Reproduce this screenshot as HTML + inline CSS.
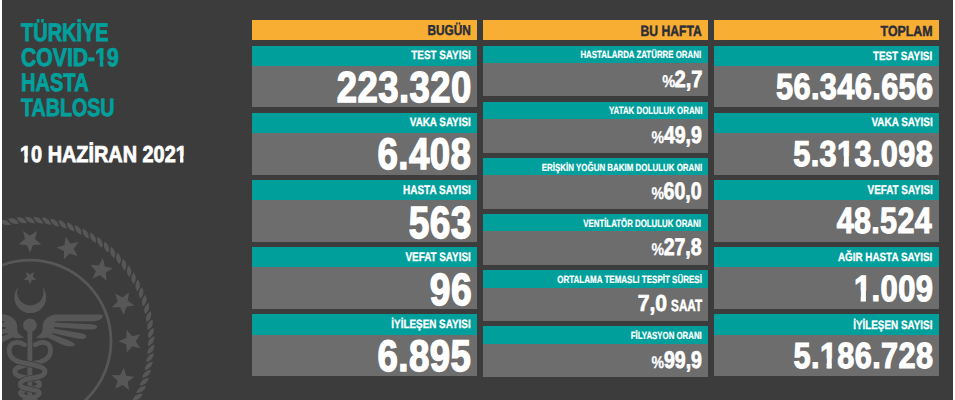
<!DOCTYPE html>
<html><head><meta charset="utf-8"><title>Türkiye COVID-19 Hasta Tablosu</title>
<style>
html,body{margin:0;padding:0;background:#fff;width:955px;height:400px;overflow:hidden}
#bg{position:absolute;left:2px;top:0;width:951px;height:400px;background:#3c3c3c;overflow:hidden}
.seal{position:absolute;left:0;top:0}
.r{position:absolute}
.t{position:absolute;white-space:nowrap;font-family:"Liberation Sans",sans-serif;font-weight:bold;text-rendering:geometricPrecision}
#page{position:absolute;left:0;top:0;width:955px;height:400px}
</style></head><body>
<div id="bg"><svg class="seal" width="951" height="400" viewBox="2 0 951 400" fill="#575757"><path d="M -6 0 Q 0 -4.6 6 0 Q 0 4.6 -6 0 Z" transform="translate(151.20 341.20) rotate(122.0)"/><path d="M -6 0 Q 0 -4.6 6 0 Q 0 4.6 -6 0 Z" transform="translate(150.92 349.47) rotate(125.9)"/><path d="M -6 0 Q 0 -4.6 6 0 Q 0 4.6 -6 0 Z" transform="translate(150.07 357.70) rotate(129.8)"/><path d="M -6 0 Q 0 -4.6 6 0 Q 0 4.6 -6 0 Z" transform="translate(148.66 365.86) rotate(133.7)"/><path d="M -6 0 Q 0 -4.6 6 0 Q 0 4.6 -6 0 Z" transform="translate(146.71 373.90) rotate(137.7)"/><path d="M -6 0 Q 0 -4.6 6 0 Q 0 4.6 -6 0 Z" transform="translate(144.20 381.79) rotate(141.6)"/><path d="M -6 0 Q 0 -4.6 6 0 Q 0 4.6 -6 0 Z" transform="translate(141.17 389.49) rotate(145.5)"/><path d="M -6 0 Q 0 -4.6 6 0 Q 0 4.6 -6 0 Z" transform="translate(137.61 396.96) rotate(149.4)"/><path d="M -6 0 Q 0 -4.6 6 0 Q 0 4.6 -6 0 Z" transform="translate(133.56 404.17) rotate(153.3)"/><path d="M -6 0 Q 0 -4.6 6 0 Q 0 4.6 -6 0 Z" transform="translate(-2.70 224.49) rotate(376.3)"/><path d="M -6 0 Q 0 -4.6 6 0 Q 0 4.6 -6 0 Z" transform="translate(5.34 222.54) rotate(380.3)"/><path d="M -6 0 Q 0 -4.6 6 0 Q 0 4.6 -6 0 Z" transform="translate(13.50 221.13) rotate(384.2)"/><path d="M -6 0 Q 0 -4.6 6 0 Q 0 4.6 -6 0 Z" transform="translate(21.73 220.28) rotate(388.1)"/><path d="M -6 0 Q 0 -4.6 6 0 Q 0 4.6 -6 0 Z" transform="translate(30.00 220.00) rotate(392.0)"/><path d="M -6 0 Q 0 -4.6 6 0 Q 0 4.6 -6 0 Z" transform="translate(38.27 220.28) rotate(395.9)"/><path d="M -6 0 Q 0 -4.6 6 0 Q 0 4.6 -6 0 Z" transform="translate(46.50 221.13) rotate(399.8)"/><path d="M -6 0 Q 0 -4.6 6 0 Q 0 4.6 -6 0 Z" transform="translate(54.66 222.54) rotate(403.7)"/><path d="M -6 0 Q 0 -4.6 6 0 Q 0 4.6 -6 0 Z" transform="translate(62.70 224.49) rotate(407.7)"/><path d="M -6 0 Q 0 -4.6 6 0 Q 0 4.6 -6 0 Z" transform="translate(70.59 227.00) rotate(411.6)"/><path d="M -6 0 Q 0 -4.6 6 0 Q 0 4.6 -6 0 Z" transform="translate(78.29 230.03) rotate(415.5)"/><path d="M -6 0 Q 0 -4.6 6 0 Q 0 4.6 -6 0 Z" transform="translate(85.76 233.59) rotate(419.4)"/><path d="M -6 0 Q 0 -4.6 6 0 Q 0 4.6 -6 0 Z" transform="translate(92.97 237.64) rotate(423.3)"/><path d="M -6 0 Q 0 -4.6 6 0 Q 0 4.6 -6 0 Z" transform="translate(99.89 242.18) rotate(427.2)"/><path d="M -6 0 Q 0 -4.6 6 0 Q 0 4.6 -6 0 Z" transform="translate(106.49 247.18) rotate(431.1)"/><path d="M -6 0 Q 0 -4.6 6 0 Q 0 4.6 -6 0 Z" transform="translate(112.73 252.62) rotate(435.0)"/><path d="M -6 0 Q 0 -4.6 6 0 Q 0 4.6 -6 0 Z" transform="translate(118.58 258.47) rotate(439.0)"/><path d="M -6 0 Q 0 -4.6 6 0 Q 0 4.6 -6 0 Z" transform="translate(124.02 264.71) rotate(442.9)"/><path d="M -6 0 Q 0 -4.6 6 0 Q 0 4.6 -6 0 Z" transform="translate(129.02 271.31) rotate(446.8)"/><path d="M -6 0 Q 0 -4.6 6 0 Q 0 4.6 -6 0 Z" transform="translate(133.56 278.23) rotate(450.7)"/><path d="M -6 0 Q 0 -4.6 6 0 Q 0 4.6 -6 0 Z" transform="translate(137.61 285.44) rotate(454.6)"/><path d="M -6 0 Q 0 -4.6 6 0 Q 0 4.6 -6 0 Z" transform="translate(141.17 292.91) rotate(458.5)"/><path d="M -6 0 Q 0 -4.6 6 0 Q 0 4.6 -6 0 Z" transform="translate(144.20 300.61) rotate(462.4)"/><path d="M -6 0 Q 0 -4.6 6 0 Q 0 4.6 -6 0 Z" transform="translate(146.71 308.50) rotate(466.3)"/><path d="M -6 0 Q 0 -4.6 6 0 Q 0 4.6 -6 0 Z" transform="translate(148.66 316.54) rotate(470.3)"/><path d="M -6 0 Q 0 -4.6 6 0 Q 0 4.6 -6 0 Z" transform="translate(150.07 324.70) rotate(474.2)"/><path d="M -6 0 Q 0 -4.6 6 0 Q 0 4.6 -6 0 Z" transform="translate(150.92 332.93) rotate(478.1)"/><circle cx="30.0" cy="341.2" r="81" fill="none" stroke="#575757" stroke-width="2.8"/><polygon points="30.00,252.70 26.90,244.97 18.59,244.41 24.98,239.07 22.95,230.99 30.00,235.42 37.05,230.99 35.02,239.07 41.41,244.41 33.10,244.97"/><polygon points="63.87,259.44 63.96,251.11 56.50,247.41 64.44,244.92 65.66,236.68 70.48,243.47 78.69,242.08 73.72,248.76 77.58,256.14 69.69,253.48"/><polygon points="92.58,278.62 95.85,270.96 90.37,264.69 98.67,265.43 102.94,258.28 104.80,266.40 112.92,268.26 105.77,272.53 106.51,280.83 100.24,275.35"/><polygon points="111.76,307.33 117.72,301.51 115.06,293.62 122.44,297.48 129.12,292.51 127.73,300.72 134.52,305.54 126.28,306.76 123.79,314.70 120.09,307.24"/><polygon points="118.50,341.20 126.23,338.10 126.79,329.79 132.13,336.18 140.21,334.15 135.78,341.20 140.21,348.25 132.13,346.22 126.79,352.61 126.23,344.30"/><polygon points="111.76,375.07 120.09,375.16 123.79,367.70 126.28,375.64 134.52,376.86 127.73,381.68 129.12,389.89 122.44,384.92 115.06,388.78 117.72,380.89"/><polygon points="30.00,284.40 28.24,280.02 23.53,279.70 27.15,276.68 26.00,272.10 30.00,274.61 34.00,272.10 32.85,276.68 36.47,279.70 31.76,280.02"/><path d="M 18.33 286.73 A 15.9 15.9 0 1 0 42.27 286.73 A 13.2 13.2 0 1 1 18.33 286.73 Z"/><circle cx="29.9" cy="325.2" r="6.8"/><rect x="27.5" y="325" width="4.8" height="80"/><g><path d="M 55 314.4 L 100 314.4 C 104 314.4 103.5 317 101 319 C 99 320.8 96 321.3 91 321.3 L 55 321.3 Z"/><path d="M 54 322.6 L 92 324.2 C 98 324.6 98.5 327.6 95 329 C 92 330 86 329.6 80 329 L 52 326.8 Z"/><path d="M 52 328.2 L 80 333 C 86 334 88 336.4 85 338.2 C 82 339.8 77 339 72 337.6 L 50 332.4 Z"/><path d="M 50 333.6 L 68 340 C 74 342.4 76 344.4 74 345.8 C 71 347 66 346 62 344.4 L 47 337.2 Z"/><path d="M 57 314.4 C 48 314.6 42 320.5 42.6 327.5 C 43 332.5 40.5 335.2 35.6 337.2 C 42 339.4 49 338.2 52.5 333.5 L 55.5 321.3 Z"/></g><g transform="translate(59.8 0) scale(-1 1)"><path d="M 55 314.4 L 100 314.4 C 104 314.4 103.5 317 101 319 C 99 320.8 96 321.3 91 321.3 L 55 321.3 Z"/><path d="M 54 322.6 L 92 324.2 C 98 324.6 98.5 327.6 95 329 C 92 330 86 329.6 80 329 L 52 326.8 Z"/><path d="M 52 328.2 L 80 333 C 86 334 88 336.4 85 338.2 C 82 339.8 77 339 72 337.6 L 50 332.4 Z"/><path d="M 50 333.6 L 68 340 C 74 342.4 76 344.4 74 345.8 C 71 347 66 346 62 344.4 L 47 337.2 Z"/><path d="M 57 314.4 C 48 314.6 42 320.5 42.6 327.5 C 43 332.5 40.5 335.2 35.6 337.2 C 42 339.4 49 338.2 52.5 333.5 L 55.5 321.3 Z"/></g><path d="M 24.5 344.8 C 18 340.5 9.8 342 9.3 349.5 C 8.8 356 13 360 20 362 C 30 364.5 44.5 366 45 371 C 45.5 376 37 377.5 29.8 378.5 C 23 379.5 19.5 382 20.5 385.5 C 21.5 389 34 389 38.5 391.5 C 41.5 394 36 397 29.8 398.5 C 24.5 399.5 22 402 23 406" fill="none" stroke="#575757" stroke-width="4.8" stroke-linecap="round" transform="translate(59.8 0) scale(-1 1)"/><path d="M 24.5 344.8 C 18 340.5 9.8 342 9.3 349.5 C 8.8 356 13 360 20 362 C 30 364.5 44.5 366 45 371 C 45.5 376 37 377.5 29.8 378.5 C 23 379.5 19.5 382 20.5 385.5 C 21.5 389 34 389 38.5 391.5 C 41.5 394 36 397 29.8 398.5 C 24.5 399.5 22 402 23 406" fill="none" stroke="#3c3c3c" stroke-width="6.2" stroke-linecap="butt" stroke-dasharray="0 22 100 400"/><path d="M 24.5 344.8 C 18 340.5 9.8 342 9.3 349.5 C 8.8 356 13 360 20 362 C 30 364.5 44.5 366 45 371 C 45.5 376 37 377.5 29.8 378.5 C 23 379.5 19.5 382 20.5 385.5 C 21.5 389 34 389 38.5 391.5 C 41.5 394 36 397 29.8 398.5 C 24.5 399.5 22 402 23 406" fill="none" stroke="#575757" stroke-width="4.8" stroke-linecap="round"/></svg></div>
<div id="page">
<div class="r" style="left:252px;top:20px;width:225px;height:20px;background:#f7ae33"></div>
<div class="r" style="left:483px;top:20px;width:225px;height:20px;background:#f7ae33"></div>
<div class="r" style="left:714px;top:20px;width:225px;height:20px;background:#f7ae33"></div>
<div class="r" style="left:252px;top:46px;width:225px;height:20px;background:#009f9c"></div>
<div class="r" style="left:252px;top:66px;width:225px;height:41px;background:#6d6d6d"></div>
<div class="r" style="left:252px;top:113px;width:225px;height:20px;background:#009f9c"></div>
<div class="r" style="left:252px;top:133px;width:225px;height:42px;background:#6d6d6d"></div>
<div class="r" style="left:252px;top:180px;width:225px;height:20px;background:#009f9c"></div>
<div class="r" style="left:252px;top:200px;width:225px;height:42px;background:#6d6d6d"></div>
<div class="r" style="left:252px;top:247px;width:225px;height:20px;background:#009f9c"></div>
<div class="r" style="left:252px;top:267px;width:225px;height:42px;background:#6d6d6d"></div>
<div class="r" style="left:252px;top:314px;width:225px;height:21px;background:#009f9c"></div>
<div class="r" style="left:252px;top:335px;width:225px;height:41px;background:#6d6d6d"></div>
<div class="r" style="left:714px;top:46px;width:225px;height:20px;background:#009f9c"></div>
<div class="r" style="left:714px;top:66px;width:225px;height:41px;background:#6d6d6d"></div>
<div class="r" style="left:714px;top:113px;width:225px;height:20px;background:#009f9c"></div>
<div class="r" style="left:714px;top:133px;width:225px;height:42px;background:#6d6d6d"></div>
<div class="r" style="left:714px;top:180px;width:225px;height:20px;background:#009f9c"></div>
<div class="r" style="left:714px;top:200px;width:225px;height:42px;background:#6d6d6d"></div>
<div class="r" style="left:714px;top:247px;width:225px;height:20px;background:#009f9c"></div>
<div class="r" style="left:714px;top:267px;width:225px;height:42px;background:#6d6d6d"></div>
<div class="r" style="left:714px;top:314px;width:225px;height:21px;background:#009f9c"></div>
<div class="r" style="left:714px;top:335px;width:225px;height:41px;background:#6d6d6d"></div>
<div class="r" style="left:483px;top:46px;width:225px;height:17px;background:#009f9c"></div>
<div class="r" style="left:483px;top:63px;width:225px;height:33px;background:#6d6d6d"></div>
<div class="r" style="left:483px;top:102px;width:225px;height:17px;background:#009f9c"></div>
<div class="r" style="left:483px;top:119px;width:225px;height:34px;background:#6d6d6d"></div>
<div class="r" style="left:483px;top:158px;width:225px;height:17px;background:#009f9c"></div>
<div class="r" style="left:483px;top:175px;width:225px;height:34px;background:#6d6d6d"></div>
<div class="r" style="left:483px;top:214px;width:225px;height:17px;background:#009f9c"></div>
<div class="r" style="left:483px;top:231px;width:225px;height:34px;background:#6d6d6d"></div>
<div class="r" style="left:483px;top:270px;width:225px;height:18px;background:#009f9c"></div>
<div class="r" style="left:483px;top:288px;width:225px;height:33px;background:#6d6d6d"></div>
<div class="r" style="left:483px;top:326px;width:225px;height:18px;background:#009f9c"></div>
<div class="r" style="left:483px;top:344px;width:225px;height:33px;background:#6d6d6d"></div>
<div class="t" style="left:21.316px;transform-origin:0 50%;top:20.893px;font-size:25.290px;line-height:25.290px;transform:scaleX(0.7901);color:#00a09d;-webkit-text-stroke:0.885px #00a09d;">TÜRKİYE</div>
<div class="t" style="left:21.329px;transform-origin:0 50%;top:45.966px;font-size:25.644px;line-height:25.644px;transform:scaleX(0.8269);color:#00a09d;-webkit-text-stroke:0.898px #00a09d;">COVID-<span style="display:inline-block;clip-path:polygon(-0.5em -0.5em,1.5em -0.5em,1.5em 0.550em,0.386em 0.550em,0.386em 1.5em,0.218em 1.5em,0.218em 0.550em,-0.5em 0.550em)">1</span>9</div>
<div class="t" style="left:21.078px;transform-origin:0 50%;top:71.065px;font-size:25.288px;line-height:25.288px;transform:scaleX(0.7941);color:#00a09d;-webkit-text-stroke:0.885px #00a09d;">HASTA</div>
<div class="t" style="left:21.261px;transform-origin:0 50%;top:95.867px;font-size:24.914px;line-height:24.914px;transform:scaleX(0.7885);color:#00a09d;-webkit-text-stroke:0.872px #00a09d;">TABLOSU</div>
<div class="t" style="left:20.382px;transform-origin:0 50%;top:143.343px;font-size:23.022px;line-height:23.022px;transform:scaleX(0.8634);color:#ffffff;-webkit-text-stroke:0.806px #ffffff;"><span style="display:inline-block;clip-path:polygon(-0.5em -0.5em,1.5em -0.5em,1.5em 0.550em,0.386em 0.550em,0.386em 1.5em,0.218em 1.5em,0.218em 0.550em,-0.5em 0.550em)">1</span>0 HAZİRAN 202<span style="display:inline-block;clip-path:polygon(-0.5em -0.5em,1.5em -0.5em,1.5em 0.550em,0.386em 0.550em,0.386em 1.5em,0.218em 1.5em,0.218em 0.550em,-0.5em 0.550em)">1</span></div>
<div class="t" style="right:484.287px;transform-origin:100% 50%;top:24.133px;font-size:14.421px;line-height:14.421px;transform:scaleX(0.8205);color:#2b2d38;-webkit-text-stroke:0.433px #2b2d38;">BUGÜN</div>
<div class="t" style="right:252.923px;transform-origin:100% 50%;top:24.539px;font-size:14.866px;line-height:14.866px;transform:scaleX(0.8184);color:#2b2d38;-webkit-text-stroke:0.446px #2b2d38;">BU HAFTA</div>
<div class="t" style="right:22.632px;transform-origin:100% 50%;top:24.568px;font-size:14.675px;line-height:14.675px;transform:scaleX(0.8439);color:#2b2d38;-webkit-text-stroke:0.440px #2b2d38;">TOPLAM</div>
<div class="t" style="right:484.389px;transform-origin:100% 50%;top:49.307px;font-size:12.098px;line-height:12.098px;transform:scaleX(0.8171);color:#ffffff;-webkit-text-stroke:0.302px #ffffff;">TEST SAYISI</div>
<div class="t" style="right:483.280px;transform-origin:100% 50%;top:66.830px;font-size:43.495px;line-height:43.495px;transform:scaleX(0.8402);color:#ffffff;-webkit-text-stroke:1.392px #ffffff;letter-spacing:0.522px;">223.320</div>
<div class="t" style="right:484.347px;transform-origin:100% 50%;top:116.368px;font-size:12.099px;line-height:12.099px;transform:scaleX(0.8151);color:#ffffff;-webkit-text-stroke:0.302px #ffffff;">VAKA SAYISI</div>
<div class="t" style="right:483.733px;transform-origin:100% 50%;top:133.122px;font-size:44.284px;line-height:44.284px;transform:scaleX(0.8282);color:#ffffff;-webkit-text-stroke:1.417px #ffffff;letter-spacing:0.531px;">6.408</div>
<div class="t" style="right:484.221px;transform-origin:100% 50%;top:184.383px;font-size:12.345px;line-height:12.345px;transform:scaleX(0.8091);color:#ffffff;-webkit-text-stroke:0.309px #ffffff;">HASTA SAYISI</div>
<div class="t" style="right:483.139px;transform-origin:100% 50%;top:200.391px;font-size:45.004px;line-height:45.004px;transform:scaleX(0.8222);color:#ffffff;-webkit-text-stroke:1.440px #ffffff;letter-spacing:0.540px;">563</div>
<div class="t" style="right:484.366px;transform-origin:100% 50%;top:251.433px;font-size:12.362px;line-height:12.362px;transform:scaleX(0.7984);color:#ffffff;-webkit-text-stroke:0.309px #ffffff;">VEFAT SAYISI</div>
<div class="t" style="right:483.151px;transform-origin:100% 50%;top:266.930px;font-size:44.985px;line-height:44.985px;transform:scaleX(0.8276);color:#ffffff;-webkit-text-stroke:1.440px #ffffff;letter-spacing:0.540px;">96</div>
<div class="t" style="right:484.339px;transform-origin:100% 50%;top:318.311px;font-size:12.058px;line-height:12.058px;transform:scaleX(0.8210);color:#ffffff;-webkit-text-stroke:0.301px #ffffff;">İYİLEŞEN SAYISI</div>
<div class="t" style="right:483.886px;transform-origin:100% 50%;top:334.873px;font-size:44.267px;line-height:44.267px;transform:scaleX(0.8284);color:#ffffff;-webkit-text-stroke:1.417px #ffffff;letter-spacing:0.531px;">6.895</div>
<div class="t" style="right:253.928px;transform-origin:100% 50%;top:50.529px;font-size:10.408px;line-height:10.408px;transform:scaleX(0.7588);color:#ffffff;-webkit-text-stroke:0.229px #ffffff;">HASTALARDA ZATÜRRE ORANI</div>
<div class="t" style="right:279.911px;transform-origin:100% 50%;top:73.030px;font-size:17.133px;line-height:17.133px;transform:scaleX(0.8507);color:#ffffff;-webkit-text-stroke:0.257px #ffffff;">%</div>
<div class="t" style="right:252.831px;transform-origin:100% 50%;top:68.121px;font-size:23.437px;line-height:23.437px;transform:scaleX(0.8601);color:#ffffff;-webkit-text-stroke:0.750px #ffffff;">2,7</div>
<div class="t" style="right:253.040px;transform-origin:100% 50%;top:106.825px;font-size:10.490px;line-height:10.490px;transform:scaleX(0.7502);color:#ffffff;-webkit-text-stroke:0.231px #ffffff;">YATAK DOLULUK ORANI</div>
<div class="t" style="right:291.187px;transform-origin:100% 50%;top:129.198px;font-size:17.040px;line-height:17.040px;transform:scaleX(0.8285);color:#ffffff;-webkit-text-stroke:0.256px #ffffff;">%</div>
<div class="t" style="right:253.130px;transform-origin:100% 50%;top:124.097px;font-size:24.059px;line-height:24.059px;transform:scaleX(0.8101);color:#ffffff;-webkit-text-stroke:0.770px #ffffff;">49,9</div>
<div class="t" style="right:252.885px;transform-origin:100% 50%;top:163.958px;font-size:10.361px;line-height:10.361px;transform:scaleX(0.7674);color:#ffffff;-webkit-text-stroke:0.228px #ffffff;">ERİŞKİN YOĞUN BAKIM DOLULUK ORANI</div>
<div class="t" style="right:291.095px;transform-origin:100% 50%;top:185.336px;font-size:16.977px;line-height:16.977px;transform:scaleX(0.8309);color:#ffffff;-webkit-text-stroke:0.255px #ffffff;">%</div>
<div class="t" style="right:253.034px;transform-origin:100% 50%;top:179.987px;font-size:23.963px;line-height:23.963px;transform:scaleX(0.8172);color:#ffffff;-webkit-text-stroke:0.767px #ffffff;">60,0</div>
<div class="t" style="right:253.648px;transform-origin:100% 50%;top:218.833px;font-size:10.681px;line-height:10.681px;transform:scaleX(0.7358);color:#ffffff;-webkit-text-stroke:0.235px #ffffff;">VENTİLATÖR DOLULUK ORANI</div>
<div class="t" style="right:291.130px;transform-origin:100% 50%;top:241.331px;font-size:17.048px;line-height:17.048px;transform:scaleX(0.8281);color:#ffffff;-webkit-text-stroke:0.256px #ffffff;">%</div>
<div class="t" style="right:252.888px;transform-origin:100% 50%;top:236.117px;font-size:23.989px;line-height:23.989px;transform:scaleX(0.8151);color:#ffffff;-webkit-text-stroke:0.768px #ffffff;">27,8</div>
<div class="t" style="right:252.871px;transform-origin:100% 50%;top:275.691px;font-size:10.417px;line-height:10.417px;transform:scaleX(0.7698);color:#ffffff;-webkit-text-stroke:0.229px #ffffff;">ORTALAMA TEMASLI TESPİT SÜRESİ</div>
<div class="t" style="right:287.540px;transform-origin:100% 50%;top:291.976px;font-size:23.044px;line-height:23.044px;transform:scaleX(0.9174);color:#ffffff;-webkit-text-stroke:0.737px #ffffff;">7,0</div>
<div class="t" style="right:253.168px;transform-origin:100% 50%;top:298.112px;font-size:16.263px;line-height:16.263px;transform:scaleX(0.7184);color:#ffffff;-webkit-text-stroke:0.520px #ffffff;">SAAT</div>
<div class="t" style="right:253.000px;transform-origin:100% 50%;top:331.671px;font-size:10.381px;line-height:10.381px;transform:scaleX(0.7567);color:#ffffff;-webkit-text-stroke:0.228px #ffffff;">FİLYASYON ORANI</div>
<div class="t" style="right:291.229px;transform-origin:100% 50%;top:354.191px;font-size:17.065px;line-height:17.065px;transform:scaleX(0.8283);color:#ffffff;-webkit-text-stroke:0.256px #ffffff;">%</div>
<div class="t" style="right:253.160px;transform-origin:100% 50%;top:349.220px;font-size:24.127px;line-height:24.127px;transform:scaleX(0.8097);color:#ffffff;-webkit-text-stroke:0.772px #ffffff;">99,9</div>
<div class="t" style="right:22.502px;transform-origin:100% 50%;top:49.902px;font-size:11.999px;line-height:11.999px;transform:scaleX(0.8206);color:#ffffff;-webkit-text-stroke:0.300px #ffffff;">TEST SAYISI</div>
<div class="t" style="right:21.672px;transform-origin:100% 50%;top:69.349px;font-size:36.407px;line-height:36.407px;transform:scaleX(0.8442);color:#ffffff;-webkit-text-stroke:1.165px #ffffff;letter-spacing:0.437px;">56.346.656</div>
<div class="t" style="right:22.146px;transform-origin:100% 50%;top:116.368px;font-size:12.090px;line-height:12.090px;transform:scaleX(0.8200);color:#ffffff;-webkit-text-stroke:0.302px #ffffff;">VAKA SAYISI</div>
<div class="t" style="right:21.842px;transform-origin:100% 50%;top:135.823px;font-size:36.036px;line-height:36.036px;transform:scaleX(0.8522);color:#ffffff;-webkit-text-stroke:1.153px #ffffff;letter-spacing:0.432px;">5.3<span style="display:inline-block;clip-path:polygon(-0.5em -0.5em,1.5em -0.5em,1.5em 0.550em,0.385em 0.550em,0.385em 1.5em,0.219em 1.5em,0.219em 0.550em,-0.5em 0.550em)">1</span>3.098</div>
<div class="t" style="right:22.339px;transform-origin:100% 50%;top:184.189px;font-size:12.677px;line-height:12.677px;transform:scaleX(0.7783);color:#ffffff;-webkit-text-stroke:0.317px #ffffff;">VEFAT SAYISI</div>
<div class="t" style="right:22.629px;transform-origin:100% 50%;top:203.430px;font-size:36.434px;line-height:36.434px;transform:scaleX(0.8365);color:#ffffff;-webkit-text-stroke:1.166px #ffffff;letter-spacing:0.437px;">48.524</div>
<div class="t" style="right:22.700px;transform-origin:100% 50%;top:251.667px;font-size:11.957px;line-height:11.957px;transform:scaleX(0.8257);color:#ffffff;-webkit-text-stroke:0.299px #ffffff;">AĞIR HASTA SAYISI</div>
<div class="t" style="right:21.542px;transform-origin:100% 50%;top:270.665px;font-size:36.452px;line-height:36.452px;transform:scaleX(0.8506);color:#ffffff;-webkit-text-stroke:1.166px #ffffff;letter-spacing:0.437px;"><span style="display:inline-block;clip-path:polygon(-0.5em -0.5em,1.5em -0.5em,1.5em 0.550em,0.385em 0.550em,0.385em 1.5em,0.219em 1.5em,0.219em 0.550em,-0.5em 0.550em)">1</span>.009</div>
<div class="t" style="right:22.582px;transform-origin:100% 50%;top:318.772px;font-size:12.039px;line-height:12.039px;transform:scaleX(0.8219);color:#ffffff;-webkit-text-stroke:0.301px #ffffff;">İYİLEŞEN SAYISI</div>
<div class="t" style="right:21.748px;transform-origin:100% 50%;top:338.427px;font-size:36.316px;line-height:36.316px;transform:scaleX(0.8454);color:#ffffff;-webkit-text-stroke:1.162px #ffffff;letter-spacing:0.436px;">5.<span style="display:inline-block;clip-path:polygon(-0.5em -0.5em,1.5em -0.5em,1.5em 0.550em,0.385em 0.550em,0.385em 1.5em,0.219em 1.5em,0.219em 0.550em,-0.5em 0.550em)">1</span>86.728</div>
</div>
</body></html>
